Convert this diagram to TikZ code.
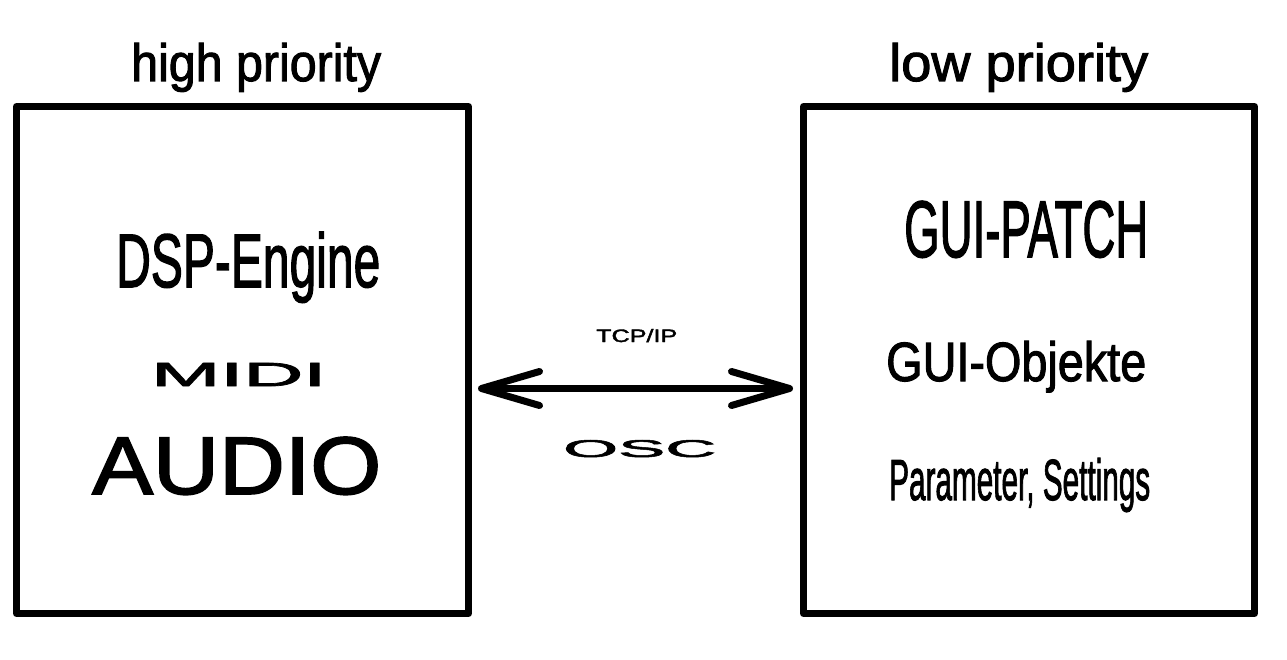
\documentclass[tikz,border=0pt]{standalone}
\usepackage{fontspec}
\setmainfont{Liberation Sans}[FakeBold=2]
\usepackage{graphicx}
\usetikzlibrary{arrows.meta,positioning}
\newcommand{\fitto}[3]{\resizebox{#1pt}{#2pt}{#3}}
\tikzset{
  procbox/.style={draw,line width=7pt,line join=round,minimum width=452pt,minimum height=507pt,inner sep=0pt},
  lbl/.style={inner sep=0pt,anchor=base west},
  barb/.tip={Straight Barb[length=58pt,width=34pt,line cap=round,line join=round]},
  link/.style={line width=7pt,barb-barb}
}

\begin{document}
\begin{tikzpicture}[x=1pt,y=-1pt]
  \useasboundingbox (0,0) rectangle (1287,660);
  \node[procbox] (hp) at (242.5,360) {};
  \node[procbox,minimum width=451pt] (lp) at (1029,360) {};
  \node[lbl] (hpname) at (131,81) {\fitto{250}{38}{high priority}};
  \node[lbl] (lpname) at (889,81) {\fitto{259}{38}{low priority}};
  % high priority side
  \node[lbl] (dsp) at (116,287) {\fitto{264}{55}{DSP-Engine}};
  \node[lbl] (midi) at (151,386) {\fitto{175}{23}{MIDI}};
  \node[lbl] (audio) at (92,494) {\fitto{289}{57}{AUDIO}};
  % low priority side
  \node[lbl] (patch) at (904,257) {\fitto{244}{56}{GUI-PATCH}};
  \node[lbl] (objekte) at (886,381) {\fitto{260}{40}{GUI-Objekte}};
  \node[lbl] (params) at (889,500) {\fitto{261}{42}{Parameter, Settings}};
  % link
  \node[lbl] (tcp) at (596,342) {\fitto{81}{13}{TCP/IP}};
  \node[lbl] (osc) at (563,457) {\fitto{153}{17}{OSC}};
  \draw[link] ([shift={(6,28.5)}]hp.east) -- ([shift={(-7,28.5)}]lp.west);
\end{tikzpicture}
\end{document}
